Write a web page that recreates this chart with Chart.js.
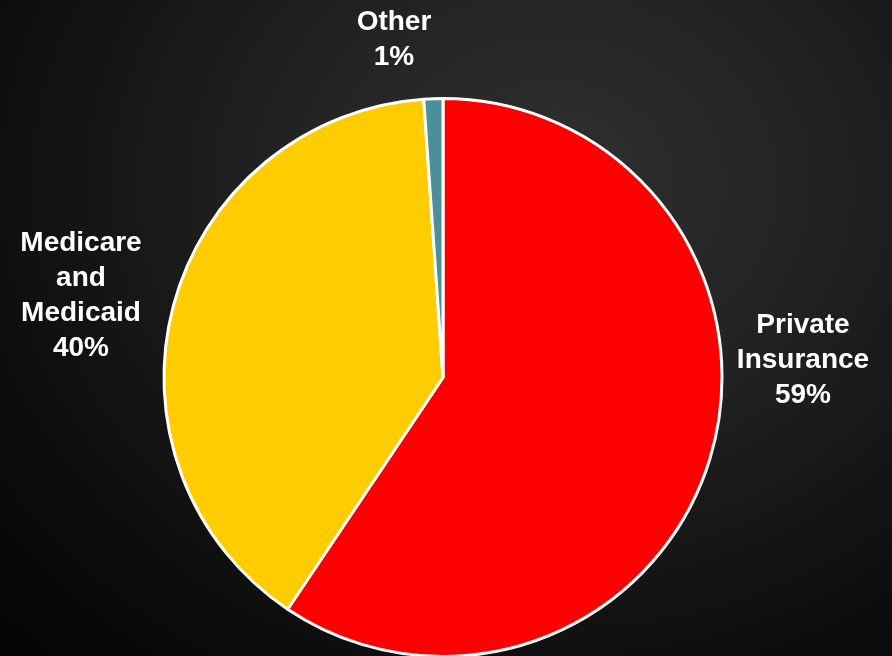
<!DOCTYPE html>
<html>
<head>
<meta charset="utf-8">
<script src="https://cdn.jsdelivr.net/npm/chart.js@4"></script>
<style>
  html, body { margin: 0; padding: 0; overflow: hidden; }
  body {
    width: 892px; height: 656px;
    background: radial-gradient(ellipse at 62% 28%, #303030 0%, #222222 35%, #121212 65%, #030303 100%);
  }
  #wrap { position: absolute; left: 0; top: 0; width: 892px; height: 660px; }
</style>
</head>
<body>
<div id="wrap"><canvas id="pie"></canvas></div>
<script>
// slice data, clockwise from 12 o'clock
const categories = ['Private Insurance', 'Medicare and Medicaid', 'Other'];
const shares = [59.4, 39.5, 1.1];
const sliceColors = ['#ff0000', '#ffcc00', '#4a8f9a'];

// label text lines for each slice
const labelLines = [
  ['Private', 'Insurance', '59%'],
  ['Medicare', 'and', 'Medicaid', '40%'],
  ['Other', '1%']
];

/*
*   Draws the slice labels outside the pie, centred on a given anchor
*/
const outsideLabels = {
  id: 'outsideLabels',
  afterDraw(chart, args, opts) {
    const ctx = chart.ctx;
    ctx.save();
    ctx.fillStyle = '#ffffff';
    ctx.font = 'bold 28px "Liberation Sans", Arial, sans-serif';
    ctx.textAlign = 'center';
    ctx.textBaseline = 'middle';
    opts.anchors.forEach((a, i) => {
      labelLines[i].forEach((line, j) => {
        ctx.fillText(line, a.x, a.y + j * opts.lineHeight);
      });
    });
    ctx.restore();
  }
};

new Chart(document.getElementById('pie'), {
  type: 'pie',
  data: {
    labels: categories,
    datasets: [{
      data: shares,
      backgroundColor: sliceColors,
      borderColor: '#ffffff',
      borderWidth: 3
    }]
  },
  options: {
    responsive: true,
    maintainAspectRatio: false,
    animation: false,
    layout: { padding: { top: 97, bottom: 2, left: 0, right: 6 } },
    plugins: {
      legend: { display: false },
      tooltip: { enabled: false },
      outsideLabels: {
        lineHeight: 35,
        anchors: [
          { x: 803, y: 325 },
          { x: 81, y: 243 },
          { x: 394, y: 22 }
        ]
      }
    }
  },
  plugins: [outsideLabels]
});
</script>
</body>
</html>
